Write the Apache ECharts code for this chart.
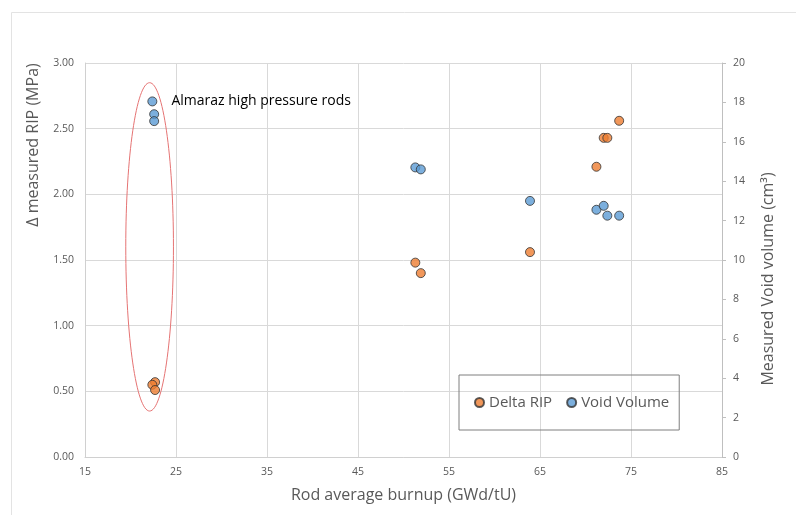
<!DOCTYPE html>
<html>
<head>
<meta charset="utf-8">
<script src="https://cdn.jsdelivr.net/npm/echarts@6/dist/echarts.min.js"></script>
<style>
  html, body { margin: 0; padding: 0; background: #fff; }
  #chart { width: 796px; height: 515px; }
</style>
</head>
<body>
<div id="chart"></div>
<script>
const ripBurnup = [22.7, 22.4, 22.7, 51.3, 51.9, 63.9, 71.2, 72.0, 72.4, 73.7]
const deltaRip = [0.57, 0.55, 0.51, 1.48, 1.40, 1.56, 2.21, 2.43, 2.43, 2.56]
const voidBurnup = [22.4, 22.6, 22.6, 51.3, 51.9, 63.9, 71.2, 72.0, 72.4, 73.7]
const voidVolume = [18.05, 17.4, 17.05, 14.7, 14.6, 13.0, 12.55, 12.75, 12.25, 12.25]

// annotation: ellipse round the Almaraz rods, in data units (x, left y)
const ellipseCenter = [22.1, 1.6]
const ellipseRadius = [2.62, 1.25]
const noteText = 'Almaraz high pressure rods'
const notePos = [24.5, 2.71]

const font = '"Open Sans", "Noto Sans", sans-serif'
const gray = '#595959'

const chart = echarts.init(document.getElementById('chart'))

const markStyle = { borderColor: '#333', borderWidth: 1 }

let option = {
    animation: false,
    textStyle: { fontFamily: font },
    grid: { left: 85, right: 74, top: 63, bottom: 58 },
    legend: {
        left: 459,
        top: 375,
        orient: 'horizontal',
        padding: [20, 10, 20, 15],
        borderColor: '#7f7f7f',
        borderWidth: 1,
        itemWidth: 9,
        itemHeight: 9,
        itemGap: 14,
        icon: 'circle',
        textStyle: { fontSize: 15, color: gray, fontFamily: font },
        data: ['Delta RIP', 'Void Volume']
    },
    xAxis: {
        type: 'value',
        min: 15,
        max: 85,
        interval: 10,
        name: 'Rod average burnup (GWd/tU)',
        nameLocation: 'middle',
        nameGap: 30,
        nameTextStyle: { fontSize: 16, color: gray },
        axisLine: { show: true, lineStyle: { color: '#d0d0d0' } },
        axisTick: { show: false },
        axisLabel: { fontSize: 10.5, color: gray, margin: 10 },
        splitLine: { lineStyle: { color: '#d9d9d9' } }
    },
    yAxis: [
        {
            type: 'value',
            min: 0,
            max: 3,
            interval: 0.5,
            name: 'Δ measured RIP (MPa)',
            nameLocation: 'middle',
            nameRotate: 90,
            nameGap: 44,
            nameTextStyle: { fontSize: 16, color: gray, padding: [0, 0, 0, 230] },
            axisLine: { show: true, lineStyle: { color: '#d0d0d0' } },
            axisTick: { show: false },
            axisLabel: { fontSize: 10.5, color: gray, margin: 11, formatter: v => v.toFixed(2) },
            splitLine: { lineStyle: { color: '#d9d9d9' } }
        },
        {
            type: 'value',
            position: 'right',
            min: 0,
            max: 20,
            interval: 2,
            name: 'Measured Void volume (cm³)',
            nameLocation: 'middle',
            nameRotate: 90,
            nameGap: 38,
            nameTextStyle: { fontSize: 16, color: gray, padding: [0, 38, 0, 0] },
            axisLine: { show: true, lineStyle: { color: '#bfbfbf' } },
            axisTick: { show: true, inside: false, length: 4, lineStyle: { color: '#bfbfbf' } },
            axisLabel: { fontSize: 10.5, color: gray, margin: 11 },
            splitLine: { show: false }
        }
    ],
    series: [
        {
            name: 'Delta RIP',
            type: 'scatter',
            yAxisIndex: 0,
            symbolSize: 9,
            itemStyle: Object.assign({ color: '#ED7D31' }, markStyle),
            data: ripBurnup.map((x, i) => [x, deltaRip[i]]),
            z: 3
        },
        {
            name: 'Void Volume',
            type: 'scatter',
            yAxisIndex: 1,
            symbolSize: 9,
            itemStyle: Object.assign({ color: '#5B9BD5' }, markStyle),
            data: voidBurnup.map((x, i) => [x, voidVolume[i]]),
            z: 3
        }
    ]
}
chart.setOption(option)

// place the annotation from data coordinates
const toPx = p => chart.convertToPixel({ xAxisIndex: 0, yAxisIndex: 0 }, p)
const c = toPx(ellipseCenter)
const edge = toPx([ellipseCenter[0] + ellipseRadius[0], ellipseCenter[1] + ellipseRadius[1]])
const note = toPx(notePos)

chart.setOption({
    graphic: [
        {
            type: 'rect',
            left: 9,
            top: 10,
            silent: true,
            shape: { width: 800, height: 520 },
            style: { fill: 'none', stroke: '#e3e3e3', lineWidth: 1 }
        },
        {
            type: 'ellipse',
            silent: true,
            shape: { cx: c[0], cy: c[1], rx: Math.abs(edge[0] - c[0]), ry: Math.abs(c[1] - edge[1]) },
            style: { fill: 'none', stroke: '#E57373', lineWidth: 1 },
            z: 2
        },
        {
            type: 'text',
            x: note[0],
            y: note[1],
            silent: true,
            style: {
                text: noteText,
                fill: '#000',
                font: '14px ' + font,
                verticalAlign: 'middle'
            },
            z: 4
        }
    ]
})
</script>
</body>
</html>
